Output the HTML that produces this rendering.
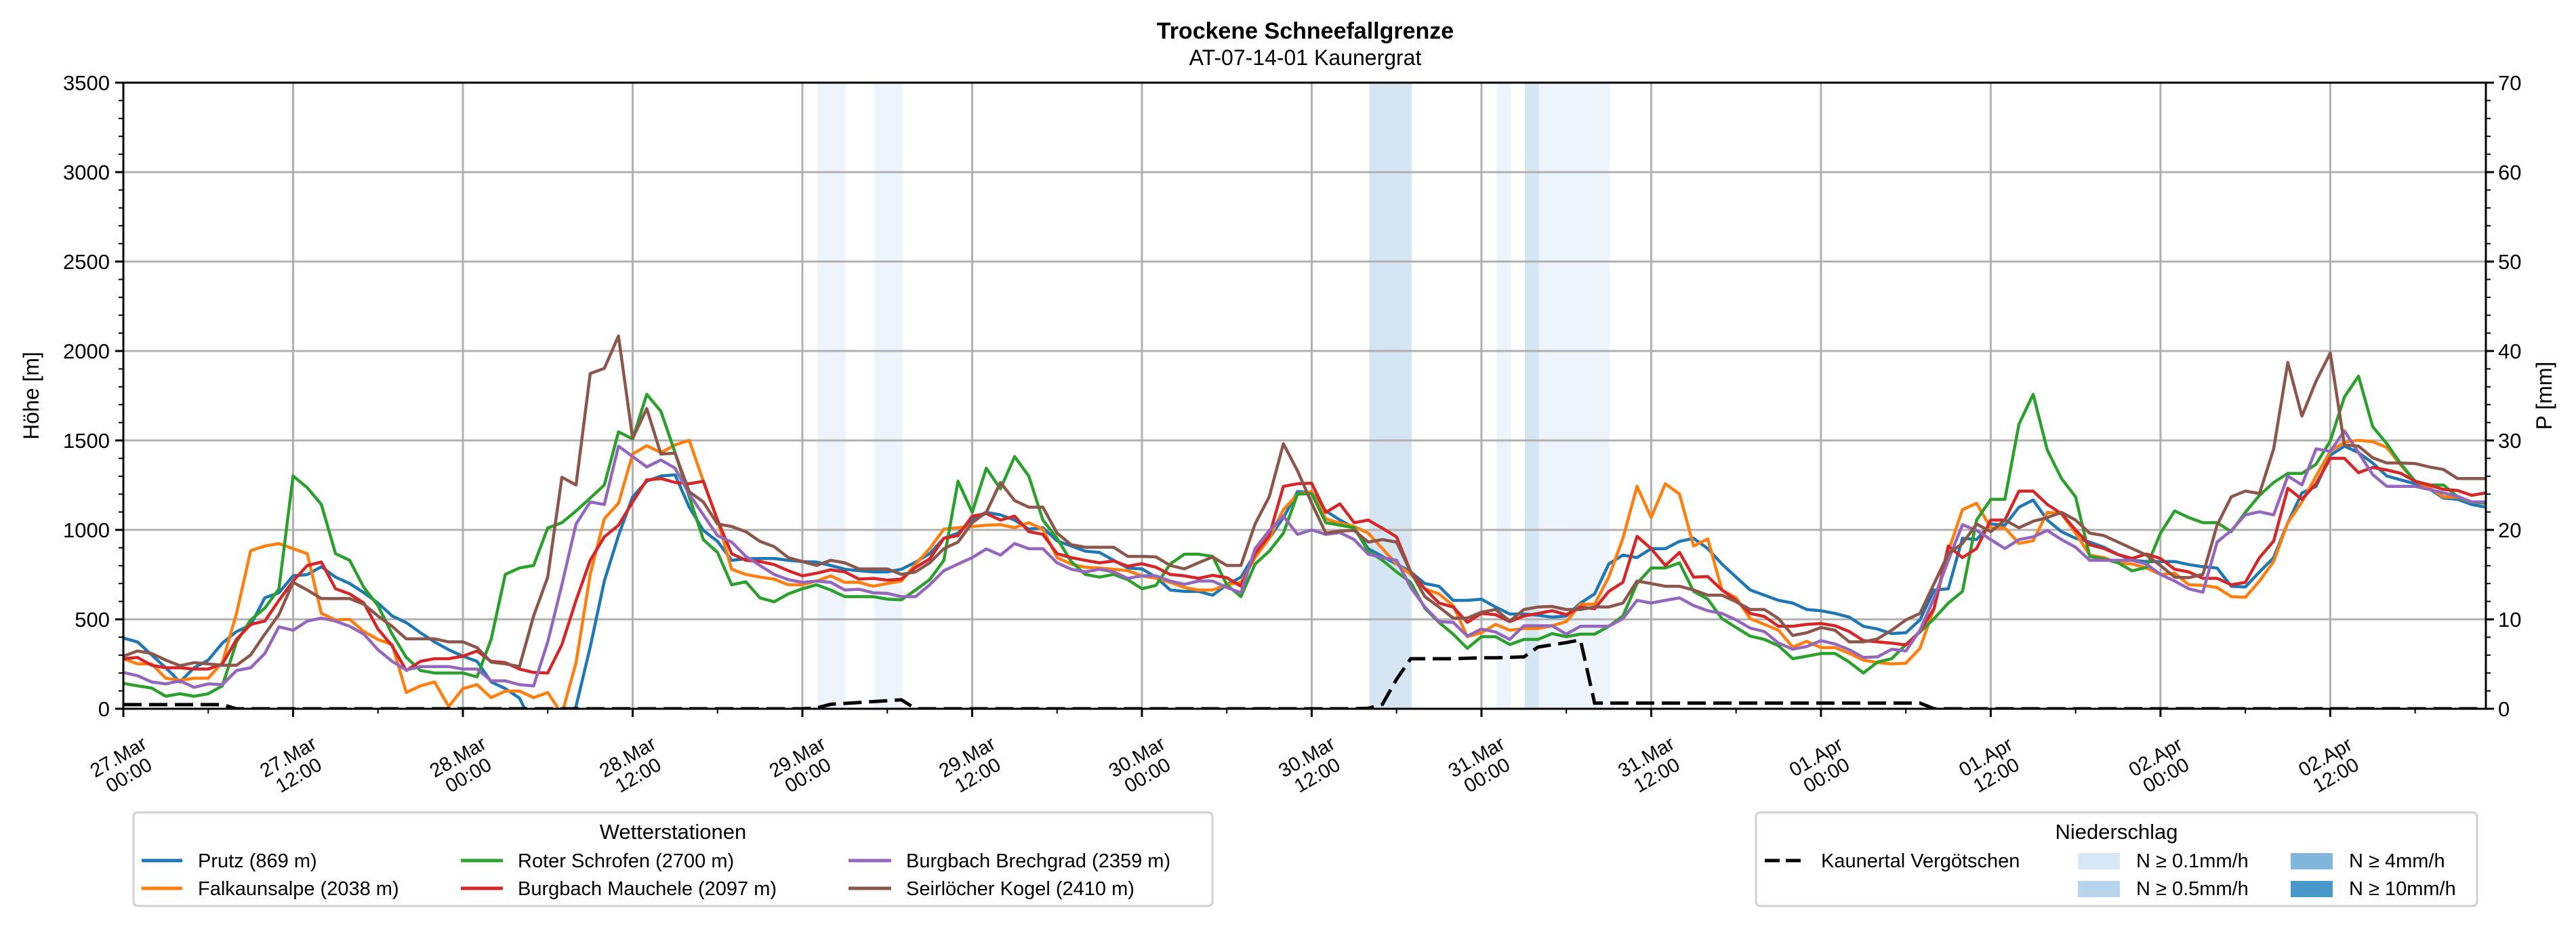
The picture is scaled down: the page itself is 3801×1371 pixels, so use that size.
<!DOCTYPE html>
<html><head><meta charset="utf-8"><title>Trockene Schneefallgrenze</title>
<style>
html,body{margin:0;padding:0;background:#fff;}
svg{display:block;font-family:"Liberation Sans",sans-serif;}
</style></head>
<body>
<svg id="chart" xmlns="http://www.w3.org/2000/svg" width="3801" height="1371" viewBox="0 0 3801 1371">
<rect width="3801" height="1371" fill="#fff"/>
<text x="1926" y="57" font-size="34" font-weight="bold" text-anchor="middle">Trockene Schneefallgrenze</text>
<text x="1926" y="96" font-size="32" text-anchor="middle">AT-07-14-01 Kaunergrat</text>
<defs><clipPath id="plotclip"><rect x="182" y="122" width="3486" height="924"/></clipPath></defs>
<g id="bands" clip-path="url(#plotclip)"></g>
<g id="grid"></g>
<g id="series" clip-path="url(#plotclip)"></g>
<g id="axes"></g>
<text transform="translate(57,584) rotate(-90)" font-size="32" text-anchor="middle">Höhe [m]</text>
<text transform="translate(3765,584) rotate(-90)" font-size="32" text-anchor="middle">P [mm]</text>

<g>
<rect x="197" y="1199" width="1592" height="138" rx="6" fill="#fff" stroke="#d0d0d0" stroke-width="3"/>
<text x="993" y="1238" font-size="31" text-anchor="middle">Wetterstationen</text>
<g><line x1="209" y1="1270" x2="269" y2="1270" stroke="#1f77b4" stroke-width="5"/><text x="292" y="1280" font-size="29">Prutz (869 m)</text></g>
<g><line x1="209" y1="1311" x2="269" y2="1311" stroke="#ff7f0e" stroke-width="5"/><text x="292" y="1321" font-size="29">Falkaunsalpe (2038 m)</text></g>
<g><line x1="680" y1="1270" x2="742" y2="1270" stroke="#2ca02c" stroke-width="5"/><text x="764" y="1280" font-size="29">Roter Schrofen (2700 m)</text></g>
<g><line x1="680" y1="1311" x2="742" y2="1311" stroke="#d62728" stroke-width="5"/><text x="764" y="1321" font-size="29">Burgbach Mauchele (2097 m)</text></g>
<g><line x1="1252" y1="1270" x2="1315" y2="1270" stroke="#9467bd" stroke-width="5"/><text x="1337" y="1280" font-size="29">Burgbach Brechgrad (2359 m)</text></g>
<g><line x1="1252" y1="1311" x2="1315" y2="1311" stroke="#8c564b" stroke-width="5"/><text x="1337" y="1321" font-size="29">Seirlöcher Kogel (2410 m)</text></g>
</g>

<g>
<rect x="2591" y="1199" width="1064" height="138" rx="6" fill="#fff" stroke="#d0d0d0" stroke-width="3"/>
<text x="3123" y="1238" font-size="31" text-anchor="middle">Niederschlag</text>
<g><line x1="2604" y1="1270" x2="2662" y2="1270" stroke="#000" stroke-width="5" stroke-dasharray="22,9"/><text x="2687" y="1280" font-size="29">Kaunertal Vergötschen</text></g>
<g><rect x="3066" y="1259" width="62" height="24" fill="#d8e7f5"/><text x="3152" y="1280" font-size="29">N ≥ 0.1mm/h</text></g>
<g><rect x="3066" y="1300" width="62" height="24" fill="#b7d4ea"/><text x="3152" y="1321" font-size="29">N ≥ 0.5mm/h</text></g>
<g><rect x="3380" y="1259" width="62" height="24" fill="#80b6d9"/><text x="3466" y="1280" font-size="29">N ≥ 4mm/h</text></g>
<g><rect x="3380" y="1300" width="62" height="24" fill="#4a97c9"/><text x="3466" y="1321" font-size="29">N ≥ 10mm/h</text></g>
</g>
</svg>
<script>
const prutz = [395,374,301,229,150,229,272,367,432,468,620,649,743,750,794,736,700,649,591,519,482,425,374,330,294,265,150,113,60,
-100,-150,-100,14,345,714,968,1185,1272,1301,1308,1127,997,936,830,838,840,840,830,823,820,801,780,772,765,765,780,820,
867,953,982,1062,1098,1084,1055,1004,1012,939,910,881,874,830,787,782,736,664,656,656,635,693,736,867,953,1069,1214,1210,
1106,1055,1012,895,852,809,765,700,685,606,606,613,569,530,530,523,512,519,591,642,809,859,845,895,895,936,953,895,
809,736,664,635,606,591,555,548,533,512,461,446,420,425,497,664,671,953,946,1033,1026,1127,1167,1055,990,953,932,903,863,
830,823,823,823,806,794,787,685,681,765,845,1040,1207,1243,1417,1468,1432,1374,1301,1279,1258,1229,1178,1171,1142,1127];
const falkaunsalpe = [280,251,251,171,160,171,171,258,533,884,910,924,895,867,533,497,500,432,388,359,91,128,150,12,113,135,62,99,99,
62,91,-30,258,751,1062,1149,1424,1471,1432,1475,1501,1272,1055,780,751,736,725,693,693,714,743,707,707,685,700,714,809,
895,1004,1012,1019,1026,1029,1012,1040,1004,845,809,791,787,780,772,743,729,707,678,664,664,693,707,845,953,1113,1200,1214,
1062,1038,1019,982,895,809,751,671,642,577,403,425,472,439,449,449,464,487,584,584,736,953,1243,1069,1258,1200,910,950,
664,620,504,472,439,345,377,342,342,310,272,258,251,255,338,562,881,1113,1149,1011,1011,924,939,1098,1091,982,859,845,816,
809,787,751,758,693,690,678,627,623,714,823,1040,1156,1301,1439,1490,1501,1493,1461,1361,1272,1236,1185,1182,1156,1149];
const roterSchrofen = [142,128,116,70,84,70,84,128,374,497,562,671,1301,1236,1142,867,830,678,577,417,287,214,200,200,200,178,388,751,787,
801,1011,1040,1106,1178,1251,1548,1508,1758,1663,1432,1185,946,874,693,710,620,598,642,671,693,664,627,627,627,613,609,664,
722,830,1272,1098,1345,1229,1410,1301,1055,953,823,751,736,751,722,671,690,809,864,864,852,693,627,809,881,982,1200,1203,
1040,1026,1012,881,830,765,707,562,483,417,338,403,403,359,388,388,420,403,417,417,461,519,700,787,787,816,656,613,
504,454,406,388,352,280,294,309,309,261,200,261,280,359,429,504,591,656,1055,1171,1171,1591,1758,1446,1287,1185,852,838,816,
771,790,982,1106,1069,1040,1040,990,1098,1193,1265,1316,1316,1367,1497,1743,1859,1577,1482,1367,1272,1251,1251,1185,1156,1149];
const burgbachMauchele = [280,287,243,229,229,222,222,251,388,472,490,606,714,801,820,671,642,591,446,352,214,265,280,280,294,323,265,258,222,
203,200,359,606,830,961,1026,1156,1279,1287,1265,1258,1272,1055,867,830,823,806,772,743,758,777,765,725,729,719,725,790,
838,953,968,1077,1091,1055,1077,990,975,867,845,830,816,826,797,811,791,751,743,729,746,733,685,867,968,1243,1258,1261,
1098,1145,1040,1055,1009,961,765,671,591,569,483,533,526,487,519,533,548,526,569,559,656,707,964,895,801,874,736,739,
664,606,533,516,461,461,472,477,464,432,381,374,367,357,432,562,910,845,896,1055,1055,1217,1217,1142,1091,1000,917,896,862,
840,865,840,780,765,729,729,693,707,845,938,1233,1171,1258,1400,1400,1320,1349,1335,1316,1272,1251,1226,1220,1193,1207];
const burgbachBrechgrad = [203,185,150,139,156,120,139,135,214,229,309,458,439,490,507,490,461,417,330,265,217,236,236,236,222,222,156,156,135,
128,374,693,1033,1156,1142,1468,1410,1352,1391,1345,1200,1084,968,932,852,801,751,722,707,714,707,664,668,649,645,627,627,
693,772,809,845,893,859,924,895,895,816,780,765,780,765,729,743,743,714,696,714,714,678,649,895,997,1077,975,1000,
975,985,946,864,845,830,678,569,487,483,406,446,429,388,464,464,464,417,461,461,461,504,606,591,606,620,577,548,
533,497,451,432,367,333,348,381,362,330,287,290,333,323,439,620,830,1029,997,946,896,946,961,997,946,903,830,830,830,
830,809,751,714,671,652,932,997,1084,1101,1084,1301,1251,1453,1439,1553,1432,1309,1243,1243,1243,1226,1207,1188,1156,1156];
const seirloecherKogel = [294,323,309,272,241,258,251,243,243,301,417,526,707,664,616,616,616,584,519,461,391,391,391,374,374,342,261,251,236,
519,736,1294,1251,1874,1903,2084,1511,1678,1424,1429,1214,1156,1033,1019,990,936,907,845,823,801,830,816,782,782,782,751,765,
816,895,932,1040,1098,1265,1164,1127,1127,982,917,903,903,903,852,852,849,801,782,816,849,801,801,1033,1185,1482,1330,1150,
982,994,997,932,946,932,765,627,569,507,507,540,555,490,555,569,572,555,555,569,569,591,714,700,685,685,664,635,
635,598,555,555,504,410,425,454,439,374,374,391,439,497,533,700,867,924,1033,990,1055,1012,1048,1069,1098,1055,982,968,932,
896,859,801,736,733,751,1026,1185,1217,1203,1453,1936,1636,1832,1989,1475,1468,1403,1374,1374,1371,1352,1338,1287,1287,1287];
const precipKaunertal = [
0.46,0.46,0.46,0.46,0.46,0.46,0.46,0.46,
0,0,0,0,0,0,0,0,0,0,
0,0,0,0,0,0,0,0,0,0,
0,0,0,0,0,0,0,0,0,0,
0,0,0,0,0,0,0,0,0,0,
0,
0.1,0.5,0.6,0.7,0.8,0.9,1.0,
0,0,0,0,0,0,0,0,0,0,
0,0,0,0,0,0,0,0,0,0,
0,0,0,0,0,0,0,0,0,0,
0,0,
0.05,0.5,3.3,5.6,5.6,5.6,5.6,5.65,5.7,5.7,5.75,5.8,6.9,7.15,7.4,7.7,
0.64,0.64,0.64,0.64,0.64,0.64,0.64,0.64,0.64,0.64,
0.64,0.64,0.64,0.64,0.64,0.64,0.64,0.64,0.64,0.64,
0.64,0.64,0.64,0.64,
0,0,0,0,0,0,0,0,0,0,
0,0,0,0,0,0,0,0,0,0,
0,0,0,0,0,0,0,0,0,0,
0,0,0,0,0,0,0,0,0,0];
const bandStarts = [49,53,88,97,99,100];
const bandEnds = [51,55,91,98,100,105];
const bandLevels = ["l","l","m","l","m","l"];
const xTickLabels = [["27.Mar","00:00"],["27.Mar","12:00"],["28.Mar","00:00"],["28.Mar","12:00"],["29.Mar","00:00"],["29.Mar","12:00"],["30.Mar","00:00"],["30.Mar","12:00"],["31.Mar","00:00"],["31.Mar","12:00"],["01.Apr","00:00"],["01.Apr","12:00"],["02.Apr","00:00"],["02.Apr","12:00"]];
const yTicks = [0,500,1000,1500,2000,2500,3000,3500];
const y2Ticks = [0,10,20,30,40,50,60,70];

const NS="http://www.w3.org/2000/svg";
const L=182,R=3668,T=122,B=1046;
const HMAX=167;
function xs(h){return L+h*(R-L)/HMAX;}
function ys(v){return B-v*(B-T)/3500;}
function yp(v){return B-v*(B-T)/70;}
function mk(tag,attrs,parent){const e=document.createElementNS(NS,tag);for(const k in attrs)e.setAttribute(k,attrs[k]);parent.appendChild(e);return e;}

const bandG=document.getElementById('bands');
bandStarts.forEach((s,i)=>{
  const r=mk('rect',{x:xs(s+0.07),y:T,width:xs(bandEnds[i])-xs(bandStarts[i]),height:B-T,fill:bandLevels[i]==="m"?"#d6e5f2":"#eef4fb"},bandG);
  
  
});

const grid=document.getElementById('grid');
xTickLabels.forEach((lab,i)=>{
  const l=mk('line',{x1:xs(i*12),x2:xs(i*12),y1:T,y2:B,stroke:"#b0b0b0","stroke-width":3},grid);
  
  
});
yTicks.forEach(v=>{
  const l=mk('line',{x1:L,x2:R,y1:ys(v),y2:ys(v),stroke:"#b0b0b0","stroke-width":3},grid);
  
  
});

const series=document.getElementById('series');
const defs=[[prutz,"#1f77b4","series-prutz"],[falkaunsalpe,"#ff7f0e","series-falkaunsalpe"],[roterSchrofen,"#2ca02c","series-roter-schrofen"],[burgbachMauchele,"#d62728","series-burgbach-mauchele"],[burgbachBrechgrad,"#9467bd","series-burgbach-brechgrad"],[seirloecherKogel,"#8c564b","series-seirloecher-kogel"]];
defs.forEach(d=>{
  const pts=d[0].map((v,i)=>xs(i).toFixed(1)+","+ys(v).toFixed(1)).join(" ");
  const p=mk('polyline',{points:pts,fill:"none",stroke:d[1],"stroke-width":4.5,"stroke-linejoin":"round"},series);
  
  
});
const ppts=precipKaunertal.map((v,i)=>xs(i).toFixed(1)+","+yp(v).toFixed(1)).join(" ");
const pl=mk('polyline',{points:ppts,fill:"none",stroke:"#000","stroke-width":5,"stroke-dasharray":"27,11"},series);



const axes=document.getElementById('axes');
const frame=mk('rect',{x:L,y:T,width:R-L,height:B-T,fill:"none",stroke:"#000","stroke-width":3},axes);


for(let v=0;v<=3500;v+=100){const maj=v%500===0;mk('line',{x1:L,x2:L-(maj?12:7),y1:ys(v),y2:ys(v),stroke:"#000","stroke-width":maj?3:2},axes);}
for(let v=0;v<=70;v+=2){const maj=v%10===0;mk('line',{x1:R,x2:R+(maj?12:7),y1:yp(v),y2:yp(v),stroke:"#000","stroke-width":maj?3:2},axes);}
for(let h=0;h<=HMAX;h+=6){const maj=h%12===0;mk('line',{x1:xs(h),x2:xs(h),y1:B,y2:B+(maj?12:7),stroke:"#000","stroke-width":maj?3:2},axes);}
yTicks.forEach(v=>{
  const t=mk('text',{x:L-20,y:ys(v)+11,"font-size":31,"text-anchor":"end"},axes);
  t.textContent=v;
  
  
});
y2Ticks.forEach(v=>{
  const t=mk('text',{x:R+18,y:yp(v)+11,"font-size":31},axes);
  t.textContent=v;
  
  
});
xTickLabels.forEach((lab,i)=>{
  const g=mk('g',{transform:"translate("+xs(i*12)+",1130) rotate(-30)"},axes);
  
  
  const t=mk('text',{"font-size":29,"text-anchor":"middle"},g);
  const a=mk('tspan',{x:0,y:-5},t);a.textContent=lab[0];
  const b=mk('tspan',{x:0,y:26},t);b.textContent=lab[1];
});
</script>
</body></html>
